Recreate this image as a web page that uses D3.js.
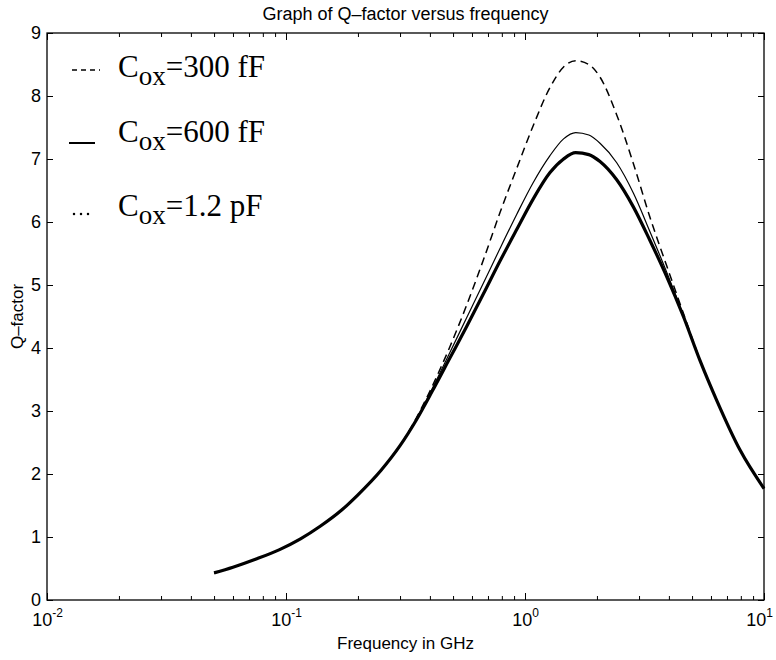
<!DOCTYPE html>
<html>
<head>
<meta charset="utf-8">
<script src="https://cdn.jsdelivr.net/npm/d3@7"></script>
<style>
  body { margin: 0; background: #fff; }
  svg { display: block; }
</style>
</head>
<body>
<svg id="vis-svg"></svg>
<script>
// frequency points (GHz)
const freqGHz = [0.05, 0.06, 0.075, 0.094, 0.115, 0.139, 0.17, 0.2, 0.25, 0.3, 0.35, 0.41, 0.485, 0.57, 0.67, 0.786, 0.923, 1.08, 1.27, 1.45, 1.63, 1.85, 2.06, 2.42, 2.84, 3.33, 3.92, 4.6, 5.4, 6.34, 7.94, 10];
// Q-factor for each oxide capacitance
const q300fF = [0.43, 0.52, 0.65, 0.80, 0.97, 1.17, 1.42, 1.67, 2.06, 2.45, 2.88, 3.40, 4.02, 4.68, 5.40, 6.15, 6.85, 7.52, 8.13, 8.46, 8.56, 8.50, 8.30, 7.70, 6.93, 6.08, 5.30, 4.55, 3.81, 3.17, 2.38, 1.77];
const q600fF = [0.43, 0.52, 0.65, 0.80, 0.97, 1.17, 1.42, 1.67, 2.06, 2.45, 2.86, 3.36, 3.93, 4.48, 5.03, 5.58, 6.12, 6.62, 7.05, 7.32, 7.42, 7.38, 7.25, 6.94, 6.46, 5.85, 5.20, 4.52, 3.80, 3.17, 2.38, 1.77];
const q1p2pF = [0.43, 0.52, 0.65, 0.80, 0.97, 1.17, 1.42, 1.67, 2.06, 2.45, 2.85, 3.32, 3.84, 4.34, 4.86, 5.38, 5.88, 6.36, 6.78, 7.00, 7.10, 7.07, 6.96, 6.67, 6.24, 5.71, 5.13, 4.50, 3.80, 3.17, 2.38, 1.77];

const legendValues = ["=300 fF", "=600 fF", "=1.2 pF"];
const xMajorTicks = [0.01, 0.1, 1, 10];
const xMinorTicks = [2, 3, 4, 5, 6, 7, 8, 9, 20, 30, 40, 50, 60, 70, 80, 90, 200, 300, 400, 500, 600, 700, 800, 900].map(v => v / 100);
const yTicks = [0, 1, 2, 3, 4, 5, 6, 7, 8, 9];

const width = 776;
const height = 660;
const margin = { top: 33, right: 12, bottom: 60, left: 47 };

const svg = d3.select('#vis-svg')
  .attr('width', width)
  .attr('height', height);

const xScale = d3.scaleLog()
  .domain([0.01, 10])
  .range([margin.left, width - margin.right]);

const yScale = d3.scaleLinear()
  .domain([0, 9])
  .range([height - margin.bottom, margin.top]);

const x0 = xScale.range()[0], x1 = xScale.range()[1];
const y0 = yScale.range()[0], y1 = yScale.range()[1];
const sans = "'Liberation Sans', Arial, Helvetica, sans-serif";
const serif = "'Liberation Serif', 'Times New Roman', serif";

// curves
const series = [
  { q: q300fF, width: 1.5, dash: "8,5" },
  { q: q600fF, width: 1.2, dash: null },
  { q: q1p2pF, width: 3.2, dash: null }
];

const line = d3.line()
  .x(function(d) { return xScale(d[0]); })
  .y(function(d) { return yScale(d[1]); })
  .curve(d3.curveMonotoneX);

svg.append('g').selectAll('path')
  .data(series)
  .enter()
  .append('path')
  .attr('fill', 'none')
  .attr('stroke', '#000')
  .attr('stroke-width', function(d) { return d.width; })
  .attr('stroke-dasharray', function(d) { return d.dash; })
  .attr('stroke-linejoin', 'round')
  .attr('d', function(d) { return line(freqGHz.map(function(f, i) { return [f, d.q[i]]; })); });

// axes: inward ticks on all four sides
function styleAxis(g) {
  g.select('.domain').remove();
  g.selectAll('line').attr('stroke', '#000').attr('stroke-width', 1);
  g.selectAll('text').attr('font-family', sans).attr('font-size', 18).attr('fill', '#000');
}

const bottomMajor = svg.append('g')
  .attr('transform', `translate(0,${y0})`)
  .call(d3.axisBottom(xScale).tickValues(xMajorTicks).tickSize(-7).tickFormat(() => ""))
  .call(styleAxis);

// 10^n labels; the last one is nudged left so it stays inside the picture
bottomMajor.selectAll('.tick text')
  .attr('dy', null)
  .attr('y', 26)
  .attr('x', function(d, i) { return i === xMajorTicks.length - 1 ? -5 : 0; })
  .each(function(d) {
    const t = d3.select(this);
    t.append('tspan').text("10");
    t.append('tspan').attr('dy', -9).attr('font-size', 12).text(Math.round(Math.log10(d)));
  });

svg.append('g')
  .attr('transform', `translate(0,${y0})`)
  .call(d3.axisBottom(xScale).tickValues(xMinorTicks).tickSize(-4).tickFormat(() => ""))
  .call(styleAxis);

svg.append('g')
  .attr('transform', `translate(0,${y1})`)
  .call(d3.axisTop(xScale).tickValues(xMajorTicks).tickSize(-7).tickFormat(() => ""))
  .call(styleAxis);

svg.append('g')
  .attr('transform', `translate(0,${y1})`)
  .call(d3.axisTop(xScale).tickValues(xMinorTicks).tickSize(-4).tickFormat(() => ""))
  .call(styleAxis);

svg.append('g')
  .attr('transform', `translate(${x0},0)`)
  .call(d3.axisLeft(yScale).tickValues(yTicks).tickSize(-6).tickPadding(6).tickFormat(d3.format('d')))
  .call(styleAxis);

svg.append('g')
  .attr('transform', `translate(${x1},0)`)
  .call(d3.axisRight(yScale).tickValues(yTicks).tickSize(-6).tickFormat(() => ""))
  .call(styleAxis);

// frame
svg.append('rect')
  .attr('x', x0).attr('y', y1)
  .attr('width', x1 - x0).attr('height', y0 - y1)
  .attr('fill', 'none').attr('stroke', '#000').attr('stroke-width', 1.3);

// titles
svg.append('text')
  .attr('x', (x0 + x1) / 2).attr('y', 20)
  .attr('text-anchor', 'middle')
  .attr('font-family', sans).attr('font-size', 18)
  .text("Graph of Q\u2013factor versus frequency");

svg.append('text')
  .attr('x', (x0 + x1) / 2).attr('y', 649)
  .attr('text-anchor', 'middle')
  .attr('font-family', sans).attr('font-size', 17)
  .text("Frequency in GHz");

svg.append('text')
  .attr('transform', `translate(23,${(y0 + y1) / 2}) rotate(-90)`)
  .attr('text-anchor', 'middle')
  .attr('font-family', sans).attr('font-size', 17)
  .text("Q\u2013factor");

// legend
const legendRows = [
  { x1: 72, x2: 100, lineY: 70, textY: 77, dash: "5,4", width: 1.5, cap: 'butt' },
  { x1: 69, x2: 95, lineY: 143, textY: 142, dash: null, width: 2, cap: 'butt' },
  { x1: 74, x2: 92, lineY: 214, textY: 216, dash: "0,7", width: 2.5, cap: 'round' }
];

const legend = svg.append('g');
legendRows.forEach(function(r, i) {
  legend.append('line')
    .attr('x1', r.x1).attr('x2', r.x2)
    .attr('y1', r.lineY).attr('y2', r.lineY)
    .attr('stroke', '#000')
    .attr('stroke-width', r.width)
    .attr('stroke-dasharray', r.dash)
    .attr('stroke-linecap', r.cap);

  const t = legend.append('text')
    .attr('x', 118).attr('y', r.textY)
    .attr('font-family', serif).attr('font-size', 31);
  t.append('tspan').text("C");
  t.append('tspan').attr('font-size', 27).attr('dy', 8).text("ox");
  t.append('tspan').attr('dy', -8).text(legendValues[i]);
});
</script>
</body>
</html>
